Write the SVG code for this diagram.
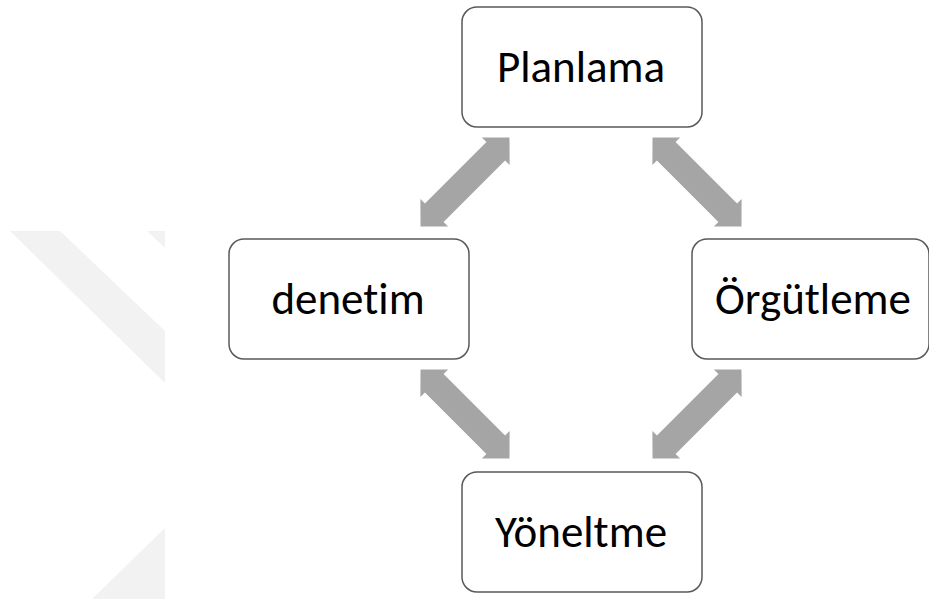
<svg xmlns="http://www.w3.org/2000/svg" width="929" height="599" viewBox="0 0 929 599">
  <style>
    .box { fill: #ffffff; stroke: #595959; stroke-width: 1.5; }
    .lbl { font-family: Carlito, Lato, "Liberation Sans", sans-serif; font-size: 45px; fill: #000000; text-anchor: middle; font-variant-ligatures: none; font-feature-settings: "liga" 0; }
    .arr { fill: #A5A5A5; }
    .wm { fill: #F2F2F2; }
  </style>
  <defs>
    <path id="dbl" d="M -62.9,0 L -43.5,-19.6 L -43.5,-13.2 L 43.5,-13.2 L 43.5,-19.6 L 62.9,0 L 43.5,19.6 L 43.5,13.2 L -43.5,13.2 L -43.5,19.6 Z"/>
  </defs>
  <rect width="929" height="599" fill="#ffffff"/>
  <g id="watermark">
    <polygon class="wm" points="10,231 60,231 165,331 165,383"/>
    <polygon class="wm" points="147,231 165,231 165,248"/>
    <polygon class="wm" points="165,528 165,599 92,599"/>
  </g>
  <g id="connectors">
    <use href="#dbl" class="arr" transform="translate(465,182) rotate(-45)"/>
    <use href="#dbl" class="arr" transform="translate(697,182) rotate(45)"/>
    <use href="#dbl" class="arr" transform="translate(465,414) rotate(45)"/>
    <use href="#dbl" class="arr" transform="translate(697,414) rotate(-45)"/>
  </g>
  <g id="planlama">
    <rect class="box" x="462" y="7" width="240" height="120" rx="15"/>
    <text class="lbl" x="581" y="82">Planlama</text>
  </g>
  <g id="denetim">
    <rect class="box" x="229" y="239" width="240" height="120" rx="15"/>
    <text class="lbl" x="348" y="314">denetim</text>
  </g>
  <g id="orgutleme">
    <rect class="box" x="692" y="239" width="237" height="120" rx="15"/>
    <text class="lbl" x="813" y="314">Örgütleme</text>
  </g>
  <g id="yoneltme">
    <rect class="box" x="462" y="472" width="240" height="120" rx="15"/>
    <text class="lbl" x="581" y="547">Yöneltme</text>
  </g>
</svg>
